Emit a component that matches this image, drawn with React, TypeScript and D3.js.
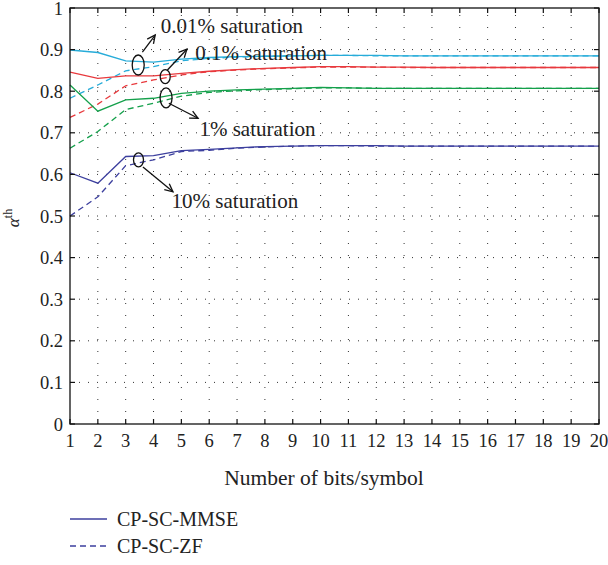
import React from 'react';
import * as d3 from 'd3';

// bits per symbol (x axis)
const bits = [1, 2, 3, 4, 5, 6, 7, 8, 9, 10, 11, 12, 13, 14, 15, 16, 17, 18, 19, 20];

// alpha_th values
const mmse001 = [0.899, 0.893, 0.873, 0.870, 0.877, 0.881, 0.883, 0.884, 0.885, 0.886, 0.886, 0.886, 0.885, 0.885, 0.885, 0.885, 0.885, 0.885, 0.885, 0.885];
const zf001 = [0.783, 0.815, 0.849, 0.859, 0.873, 0.879, 0.882, 0.884, 0.885, 0.886, 0.886, 0.885, 0.885, 0.885, 0.885, 0.885, 0.885, 0.885, 0.885, 0.885];
const mmse01 = [0.846, 0.831, 0.837, 0.837, 0.843, 0.848, 0.852, 0.855, 0.857, 0.859, 0.859, 0.858, 0.858, 0.857, 0.857, 0.857, 0.857, 0.857, 0.857, 0.857];
const zf01 = [0.737, 0.769, 0.813, 0.827, 0.839, 0.847, 0.851, 0.854, 0.856, 0.858, 0.858, 0.858, 0.857, 0.857, 0.857, 0.857, 0.857, 0.857, 0.857, 0.857];
const mmse1 = [0.815, 0.752, 0.779, 0.783, 0.795, 0.800, 0.803, 0.805, 0.807, 0.809, 0.808, 0.807, 0.807, 0.807, 0.807, 0.807, 0.807, 0.807, 0.807, 0.807];
const zf1 = [0.663, 0.703, 0.756, 0.771, 0.788, 0.797, 0.801, 0.804, 0.806, 0.808, 0.808, 0.807, 0.807, 0.807, 0.807, 0.807, 0.807, 0.807, 0.807, 0.807];
const mmse10 = [0.604, 0.579, 0.643, 0.645, 0.657, 0.660, 0.664, 0.667, 0.668, 0.669, 0.669, 0.669, 0.668, 0.668, 0.668, 0.668, 0.668, 0.668, 0.668, 0.668];
const zf10 = [0.500, 0.546, 0.621, 0.635, 0.655, 0.658, 0.663, 0.666, 0.668, 0.669, 0.669, 0.668, 0.668, 0.668, 0.668, 0.668, 0.668, 0.668, 0.668, 0.668];

const yTicks = [0, 0.1, 0.2, 0.3, 0.4, 0.5, 0.6, 0.7, 0.8, 0.9, 1];
const yTickLabels = ['0', '0.1', '0.2', '0.3', '0.4', '0.5', '0.6', '0.7', '0.8', '0.9', '1'];

const legendNames = ['CP-SC-MMSE', 'CP-SC-ZF'];

const series = [
  { color: '#27acd9', mmse: mmse001, zf: zf001 },
  { color: '#e8393d', mmse: mmse01, zf: zf01 },
  { color: '#14a04b', mmse: mmse1, zf: zf1 },
  { color: '#3c3f9e', mmse: mmse10, zf: zf10 },
];

// ellipse callouts: centre, arrow start/tip and label anchor, all in data units
const callouts = [
  { label: '0.01% saturation', cx: 3.45, cy: 0.863, from: [3.6, 0.894], to: [4.06, 0.935], tx: 4.26, ty: 0.94 },
  { label: '0.1% saturation', cx: 4.42, cy: 0.835, from: [4.5, 0.851], to: [5.2, 0.901], tx: 5.5, ty: 0.875 },
  { label: '1% saturation', cx: 4.45, cy: 0.784, from: [4.55, 0.771], to: [5.6, 0.735], tx: 5.65, ty: 0.692 },
  { label: '10% saturation', cx: 3.46, cy: 0.635, from: [3.62, 0.618], to: [4.7, 0.558], tx: 4.65, ty: 0.519 },
];

const W = 608;
const H = 565;
const margin = { left: 70, top: 8, right: 9, bottom: 141 };
const pw = W - margin.left - margin.right;
const ph = H - margin.top - margin.bottom;
const serif = '"Liberation Serif", "DejaVu Serif", serif';

const App = () => {
  const x = d3.scaleLinear().domain([1, 20]).range([margin.left, margin.left + pw]);
  const y = d3.scaleLinear().domain([0, 1]).range([margin.top + ph, margin.top]);

  const line = d3.line<number>()
    .x((d, i) => x(bits[i]))
    .y(d => y(d));

  const x0 = x(1), x1 = x(20), y0 = y(0), y1 = y(1);
  const tickLen = 5;

  const arrowHead = (fx: number, fy: number, tx: number, ty: number) => {
    const ang = Math.atan2(ty - fy, tx - fx);
    const len = 9, spread = 0.45;
    const a1 = [tx - len * Math.cos(ang - spread), ty - len * Math.sin(ang - spread)];
    const a2 = [tx - len * Math.cos(ang + spread), ty - len * Math.sin(ang + spread)];
    return `M${a1[0]},${a1[1]}L${tx},${ty}L${a2[0]},${a2[1]}`;
  };

  return (
    <div>
      <style>{'body{margin:0}'}</style>
      <svg width={W} height={H} style={{ display: 'block', background: '#fff' }} fontFamily={serif}>
        {/* dotted grid */}
        <g stroke="#333" strokeWidth={1}>
          {bits.slice(1, -1).map(b => (
            <line key={'vx' + b} x1={x(b)} x2={x(b)} y1={y0} y2={y1} strokeDasharray="1,11" />
          ))}
          {yTicks.slice(1, -1).map(t => (
            <line key={'hy' + t} x1={x0} x2={x1} y1={y(t)} y2={y(t)} strokeDasharray="1,8" />
          ))}
        </g>

        {/* curves */}
        <g fill="none" strokeWidth={1.3}>
          {series.map((s, i) => (
            <g key={i} stroke={s.color}>
              <path d={line(s.zf) || ''} strokeDasharray="6,4" />
              <path d={line(s.mmse) || ''} />
            </g>
          ))}
        </g>

        {/* axes box and ticks */}
        <rect x={x0} y={y1} width={x1 - x0} height={y0 - y1} fill="none" stroke="#111" strokeWidth={1.3} />
        <g stroke="#111" strokeWidth={1.2}>
          {bits.map(b => (
            <g key={'tx' + b}>
              <line x1={x(b)} x2={x(b)} y1={y0} y2={y0 - tickLen} />
              <line x1={x(b)} x2={x(b)} y1={y1} y2={y1 + tickLen} />
            </g>
          ))}
          {yTicks.map(t => (
            <g key={'ty' + t}>
              <line x1={x0} x2={x0 + tickLen} y1={y(t)} y2={y(t)} />
              <line x1={x1} x2={x1 - tickLen} y1={y(t)} y2={y(t)} />
            </g>
          ))}
        </g>

        {/* tick labels */}
        <g fontSize={18.5} fill="#222">
          {bits.map(b => (
            <text key={'lx' + b} x={x(b)} y={y0 + 23} textAnchor="middle">{b}</text>
          ))}
          {yTicks.map((t, i) => (
            <text key={'ly' + t} x={x0 - 7} y={y(t) + 6.5} textAnchor="end">{yTickLabels[i]}</text>
          ))}
        </g>

        {/* axis labels */}
        <text x={324} y={485} textAnchor="middle" fontSize={21.5} fill="#222">Number of bits/symbol</text>
        <text transform={`translate(19,218) rotate(-90)`} textAnchor="middle" fontSize={17} fill="#222">
          <tspan fontStyle="italic">α</tspan>
          <tspan fontSize={12} dy={-7}>th</tspan>
        </text>

        {/* callouts */}
        <g stroke="#111" strokeWidth={1.3} fill="none">
          {callouts.map((c, i) => {
            const fx = x(c.from[0]), fy = y(c.from[1]);
            const tx = x(c.to[0]), ty = y(c.to[1]);
            return (
              <g key={i}>
                <ellipse cx={x(c.cx)} cy={y(c.cy)} rx={i % 2 === 0 ? 6 : 5} ry={i % 2 === 0 ? 10 : 7} />
                <line x1={fx} y1={fy} x2={tx} y2={ty} />
                <path d={arrowHead(fx, fy, tx, ty)} />
              </g>
            );
          })}
        </g>
        <g fontSize={21} fill="#222">
          {callouts.map((c, i) => (
            <text key={i} x={x(c.tx)} y={y(c.ty)}>{c.label}</text>
          ))}
        </g>

        {/* legend */}
        <g>
          <line x1={70} x2={107} y1={519} y2={519} stroke="#3c3f9e" strokeWidth={1.3} />
          <line x1={70} x2={107} y1={546} y2={546} stroke="#3c3f9e" strokeWidth={1.3} strokeDasharray="6,4" />
          <text x={117} y={526} fontSize={20} fill="#222">{legendNames[0]}</text>
          <text x={117} y={553} fontSize={20} fill="#222">{legendNames[1]}</text>
        </g>
      </svg>
    </div>
  );
};

export default App;
